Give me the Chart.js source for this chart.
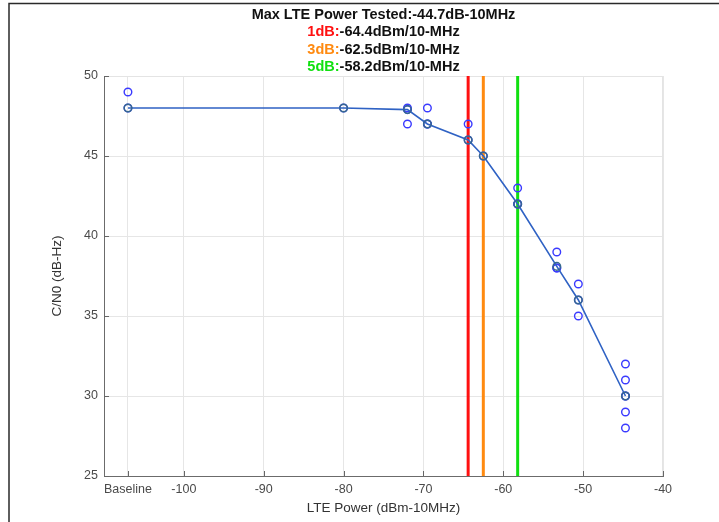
<!DOCTYPE html>
<html>
<head>
<meta charset="utf-8">
<script src="https://cdn.jsdelivr.net/npm/chart.js@4.4.1/dist/chart.umd.min.js"></script>
<style>
  html, body { margin: 0; padding: 0; background: #ffffff; }
  canvas { display: block; }
</style>
</head>
<body>
<canvas id="chart" width="719" height="522"></canvas>
<script>
// LTE interference test: C/N0 versus LTE power per 10 MHz
const BASELINE_X = -107;               // position of the "Baseline" category on the power axis
const xTickValues = [BASELINE_X, -100, -90, -80, -70, -60, -50, -40];
const yTickValues = [25, 30, 35, 40, 45, 50];

// Individual C/N0 readings at each power step
const samplePower = [
  -107, -107,
  -80,
  -72, -72, -72,
  -69.5, -69.5, -69.5,
  -64.4, -64.4,
  -62.5,
  -58.2, -58.2, -58.2,
  -53.3, -53.3, -53.3,
  -50.6, -50.6, -50.6,
  -44.7, -44.7, -44.7, -44.7, -44.7, -44.7
];
const sampleCN0 = [
  49, 48,
  48,
  48, 47.9, 47,
  48, 47, 47,
  47, 46,
  45,
  43, 42, 42,
  39, 38, 38,
  37, 36, 35,
  32, 31, 30, 30, 29, 28
];

// Average C/N0 per power step
const meanPower = [-107, -80, -72, -69.5, -64.4, -62.5, -58.2, -53.3, -50.6, -44.7];
const meanCN0   = [48, 48, 47.9, 47, 46, 45, 42, 38.1, 36, 30];

// Degradation thresholds
const thresholdNames  = ['1dB', '3dB', '5dB'];
const thresholdPower  = [-64.4, -62.5, -58.2];
const thresholdColors = ['#ff1010', '#ff8a10', '#10e010'];
const maxPowerTested  = -44.7;

const FONT = '"Liberation Sans", Arial, Helvetica, sans-serif';

const thresholdSets = thresholdPower.map((p, i) => ({
  label: thresholdNames[i],
  data: [{ x: p, y: 25 }, { x: p, y: 50 }],
  showLine: true,
  borderColor: thresholdColors[i],
  borderWidth: 3,
  pointRadius: 0,
  order: 5
}));

const titleLines = [
  [{ text: 'Max LTE Power Tested:' + maxPowerTested + 'dB-10MHz', color: '#111111' }]
].concat(thresholdNames.map((n, i) => [
  { text: n + ':', color: thresholdColors[i] },
  { text: thresholdPower[i] + 'dBm/10-MHz', color: '#111111' }
]));

// Multi-coloured title block above the plot
const titlePlugin = {
  id: 'colorTitle',
  afterDraw(chart) {
    const ctx = chart.ctx;
    const area = chart.chartArea;
    const cx = (area.left + area.right) / 2;
    ctx.save();
    ctx.font = 'bold 14.5px ' + FONT;
    ctx.textBaseline = 'middle';
    ctx.textAlign = 'left';
    titleLines.forEach((segs, li) => {
      const y = 15 + li * 17.3;
      const total = segs.reduce((s, g) => s + ctx.measureText(g.text).width, 0);
      let x = cx - total / 2;
      segs.forEach(g => {
        ctx.fillStyle = g.color;
        ctx.fillText(g.text, x, y);
        x += ctx.measureText(g.text).width;
      });
    });
    ctx.restore();
  }
};

// Inward tick marks, light box edges and the outer frame
const framePlugin = {
  id: 'frame',
  beforeDatasetsDraw(chart) {
    const ctx = chart.ctx;
    const a = chart.chartArea;
    const xs = chart.scales.x, ys = chart.scales.y;
    ctx.save();
    ctx.strokeStyle = '#e4e4e4';
    ctx.lineWidth = 1;
    ctx.beginPath();
    ctx.moveTo(a.left, a.top + 0.5); ctx.lineTo(a.right, a.top + 0.5);
    ctx.moveTo(a.right - 0.5, a.top); ctx.lineTo(a.right - 0.5, a.bottom);
    ctx.stroke();
    ctx.strokeStyle = '#666666';
    ctx.beginPath();
    xTickValues.forEach(v => {
      const px = Math.round(xs.getPixelForValue(v)) + 0.5;
      ctx.moveTo(px, a.bottom); ctx.lineTo(px, a.bottom - 5);
    });
    yTickValues.forEach(v => {
      const py = Math.round(ys.getPixelForValue(v)) + 0.5;
      ctx.moveTo(a.left, py); ctx.lineTo(a.left + 5, py);
    });
    ctx.stroke();
    ctx.restore();
  },
  afterDraw(chart) {
    const ctx = chart.ctx;
    ctx.save();
    ctx.strokeStyle = '#2a2a2a';
    ctx.lineWidth = 1.5;
    ctx.beginPath();
    ctx.moveTo(9, 522); ctx.lineTo(9, 3.5); ctx.lineTo(719, 3.5);
    ctx.stroke();
    ctx.restore();
  }
};

new Chart(document.getElementById('chart'), {
  type: 'scatter',
  data: {
    datasets: [
      ...thresholdSets,
      {
        label: 'Mean C/N0',
        data: meanPower.map((p, i) => ({ x: p, y: meanCN0[i] })),
        showLine: true,
        borderColor: '#2f62c4',
        borderWidth: 1.6,
        pointRadius: 3.8,
        pointBorderWidth: 1.5,
        pointBorderColor: '#36688f',
        pointBackgroundColor: 'rgba(0,0,0,0)',
        order: 2
      },
      {
        label: 'C/N0 samples',
        data: samplePower.map((p, i) => ({ x: p, y: sampleCN0[i] })),
        showLine: false,
        pointRadius: 3.8,
        pointBorderWidth: 1.4,
        pointBorderColor: '#3a3aff',
        pointBackgroundColor: 'rgba(0,0,0,0)',
        order: 3
      }
    ]
  },
  options: {
    responsive: false,
    animation: false,
    layout: { padding: { top: 76, right: 56, left: 42, bottom: 4 } },
    plugins: {
      legend: { display: false },
      tooltip: { enabled: false },
      title: { display: false }
    },
    scales: {
      x: {
        type: 'linear',
        min: -110,
        max: -40,
        afterBuildTicks(scale) { scale.ticks = xTickValues.map(v => ({ value: v })); },
        afterFit(scale) { scale.height = 42; },
        grid: { color: '#e6e6e6', drawTicks: false },
        border: { color: '#6b6b6b', width: 1 },
        ticks: {
          padding: 6,
          color: '#4a4a4a',
          font: { family: FONT, size: 12.5 },
          maxRotation: 0,
          callback: v => (v === BASELINE_X ? 'Baseline' : String(v))
        },
        title: {
          display: true,
          text: 'LTE Power (dBm-10MHz)',
          color: '#333333',
          font: { family: FONT, size: 13.5 },
          padding: { top: 0, bottom: 2 }
        }
      },
      y: {
        type: 'linear',
        min: 25,
        max: 50,
        afterBuildTicks(scale) { scale.ticks = yTickValues.map(v => ({ value: v })); },
        afterFit(scale) { scale.width = 62; },
        grid: { color: '#e6e6e6', drawTicks: false },
        border: { color: '#6b6b6b', width: 1 },
        ticks: {
          padding: 6,
          color: '#4a4a4a',
          font: { family: FONT, size: 12.5 },
        },
        title: {
          display: true,
          text: 'C/N0 (dB-Hz)',
          color: '#333333',
          font: { family: FONT, size: 13.5 },
          padding: { top: 7, bottom: 0 }
        }
      }
    }
  },
  plugins: [framePlugin, titlePlugin]
});
</script>
</body>
</html>
